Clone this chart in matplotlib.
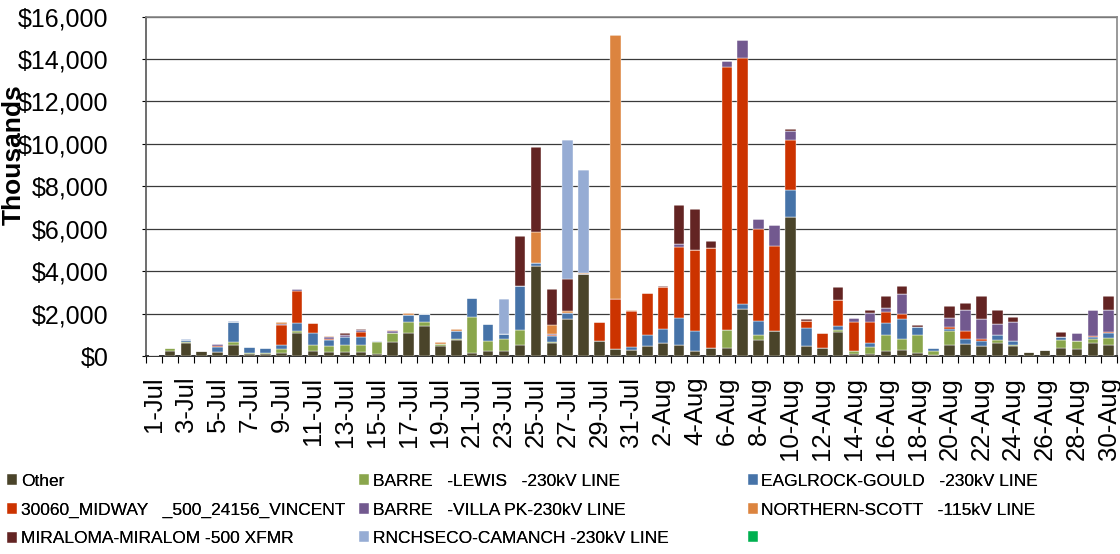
import numpy as np
import pandas as pd
from matplotlib import pyplot as plt
from matplotlib.ticker import FuncFormatter, FixedLocator

plt.rcParams['font.family'] = ['Liberation Sans', 'DejaVu Sans']

# one bar per day, 1-Jul .. 30-Aug
dates = pd.date_range('2011-07-01', '2011-08-30', freq='D')
day_labels = [f"{d.day}-{d.strftime('%b')}" for d in dates]

# values in $ thousands (bottom to top of each stack)
other = [20, 250, 620, 220, 200, 530, 80, 95, 125, 1100,
         250, 200, 170, 200, 110, 675, 1080, 1430, 490, 770,
         160, 220, 235, 530, 4260, 600, 1730, 3850, 690, 345,
         270, 455, 600, 500, 250, 360, 390, 2230, 740, 1160,
         6570, 490, 390, 1150, 110, 110, 250, 300, 160, 60,
         520, 580, 490, 600, 455, 173, 267, 390, 345, 630, 530]
barre_lewis = [0, 130, 20, 0, 10, 140, 80, 60, 190, 80,
               270, 270, 350, 310, 560, 410, 530, 190, 60, 10,
               1680, 470, 565, 710, 0, 60, 0, 0, 0, 0,
               0, 0, 0, 0, 0, 0, 850, 0, 250, 0,
               0, 0, 0, 90, 110, 310, 740, 490, 820, 170,
               660, 0, 0, 140, 60, 0, 0, 360, 380, 160, 310]
eaglrock = [0, 0, 130, 0, 220, 940, 270, 200, 190, 360,
            570, 300, 360, 380, 60, 0, 315, 375, 0, 420,
            910, 830, 250, 2040, 110, 270, 310, 0, 0, 0,
            160, 535, 660, 1270, 940, 20, 0, 220, 675, 0,
            1240, 815, 0, 170, 0, 190, 550, 940, 410, 160,
            80, 200, 230, 270, 170, 0, 0, 125, 0, 90, 240]
midway = [0, 0, 0, 0, 20, 0, 0, 0, 940, 1520,
          450, 40, 0, 250, 0, 0, 0, 0, 0, 0,
          0, 0, 0, 0, 0, 40, 0, 0, 900, 2330,
          1710, 1960, 1980, 3350, 3830, 4700, 12400, 11620, 4340, 4040,
          2360, 345, 690, 1210, 1380, 990, 520, 240, 0, 0,
          130, 410, 60, 0, 0, 0, 0, 0, 0, 80, 60]
barre_villa = [0, 0, 0, 0, 110, 0, 0, 0, 60, 80,
               0, 100, 90, 80, 0, 90, 0, 0, 0, 0,
               0, 0, 0, 0, 0, 50, 0, 0, 0, 0,
               0, 0, 30, 140, 0, 0, 280, 820, 440, 990,
               460, 0, 0, 0, 190, 410, 200, 940, 0, 0,
               380, 960, 960, 500, 900, 0, 0, 0, 380, 1190, 1050]
northern = [0, 0, 0, 0, 0, 0, 0, 0, 110, 0,
            20, 20, 20, 0, 0, 30, 80, 0, 90, 90,
            0, 0, 0, 0, 1490, 420, 80, 50, 0, 12460,
            30, 20, 0, 0, 0, 0, 0, 0, 0, 0,
            0, 0, 0, 0, 0, 0, 0, 0, 0, 0,
            0, 0, 0, 0, 0, 0, 0, 0, 0, 0, 0]
miraloma = [0, 0, 0, 0, 0, 0, 0, 0, 0, 0,
            0, 0, 90, 30, 0, 0, 0, 0, 0, 0,
            0, 0, 0, 2370, 3970, 1730, 1520, 0, 0, 0,
            0, 0, 50, 1850, 1920, 350, 0, 0, 0, 0,
            50, 80, 0, 630, 0, 140, 570, 380, 80, 0,
            580, 330, 1070, 660, 270, 0, 0, 250, 0, 0, 640]
rnchseco = [0, 0, 30, 0, 0, 30, 0, 0, 0, 0,
            0, 0, 0, 0, 0, 0, 0, 0, 0, 0,
            0, 0, 1650, 0, 0, 0, 6520, 4880, 0, 0,
            0, 0, 0, 0, 0, 0, 0, 0, 0, 0,
            0, 0, 0, 0, 0, 0, 0, 0, 0, 0,
            0, 0, 0, 0, 0, 0, 0, 0, 0, 0, 0]
unnamed = [0] * len(dates)

series_names = ['Other',
                'BARRE   -LEWIS   -230kV LINE',
                'EAGLROCK-GOULD   -230kV LINE',
                '30060_MIDWAY   _500_24156_VINCENT',
                'BARRE   -VILLA PK-230kV LINE',
                'NORTHERN-SCOTT   -115kV LINE',
                'MIRALOMA-MIRALOM -500 XFMR',
                'RNCHSECO-CAMANCH -230kV LINE',
                '']
series_values = [other, barre_lewis, eaglrock, midway, barre_villa,
                 northern, miraloma, rnchseco, unnamed]
colors = ['#4A442A', '#8AA64C', '#4673A8', '#CC3300', '#72598F',
          '#DC843F', '#632423', '#96ACD4', '#00B050']

fig = plt.figure(figsize=(11.2, 5.54), dpi=100)
ax = fig.add_axes([0.1304, 0.3574, 0.8666, 0.6126])

x = np.arange(len(dates))
bottom = np.zeros(len(dates))
handles = []
for name, vals, col in zip(series_names, series_values, colors):
    vals = np.array(vals, dtype=float)
    b = ax.bar(x, vals, bottom=bottom, width=0.66, color=col,
               edgecolor='white', linewidth=0.3, label=name, zorder=3)
    handles.append(b)
    bottom += vals

ax.set_xlim(-0.5, len(dates) - 0.5)
ax.set_ylim(0, 16000)
ax.set_yticks(np.arange(0, 16001, 2000))
ax.yaxis.set_major_formatter(FuncFormatter(lambda v, p: f'${v:,.0f}'))
ax.grid(axis='y', color='#3a3a3a', linewidth=0.9, zorder=0)

ax.set_xticks(x[::2])
ax.set_xticklabels(day_labels[::2], rotation=90, va='top')
ax.xaxis.set_minor_locator(FixedLocator(np.arange(-0.5, len(dates), 1)))
ax.tick_params(axis='x', which='major', length=0, pad=15, labelsize=18.5)
ax.tick_params(axis='x', which='minor', length=5, width=0.8, direction='out')
ax.tick_params(axis='y', length=3, width=0.8, labelsize=18, pad=24)

for side in ['top', 'right']:
    ax.spines[side].set_color('#888888')
    ax.spines[side].set_linewidth(1.2)
ax.spines['left'].set_color('#555555')
ax.spines['left'].set_linewidth(1.2)
ax.spines['bottom'].set_color('#333333')
ax.spines['bottom'].set_linewidth(1.4)

fig.text(0.0125, 1 - 155 / 554, 'Thousands', rotation=90, fontsize=19,
         fontweight='bold', ha='center', va='center')

# legend, three columns laid out row by row
col_x = [0.0, 0.3143, 0.6613]
for c in range(3):
    idx = [c, c + 3, c + 6]
    leg = fig.legend([handles[i] for i in idx], [series_names[i] for i in idx],
                     loc='upper left', bbox_to_anchor=(col_x[c], 0.157),
                     frameon=False, fontsize=12.5, handlelength=0.6,
                     handleheight=0.6, handletextpad=0.2, labelspacing=0.78,
                     borderaxespad=0)
    fig.add_artist(leg)

fig.savefig('out.png', dpi=100)
